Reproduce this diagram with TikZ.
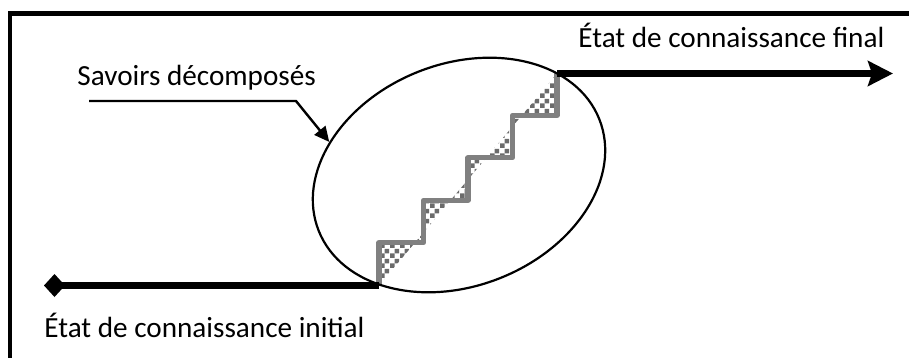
\documentclass[tikz,border=0pt]{standalone}
\usepackage{fontspec}
\setmainfont{Carlito}
\usetikzlibrary{arrows.meta,shapes.geometric,patterns.meta}

% grey checks for the gaps between the staircase and its diagonal
\tikzdeclarepattern{
  name=smallchecks,
  type=uncolored,
  bottom left={(0pt,0pt)},
  top right={(5pt,5pt)},
  tile size={(5pt,5pt)},
  code={
    \fill (0pt,0pt) rectangle (2.5pt,2.5pt);
    \fill (2.5pt,2.5pt) rectangle (5pt,5pt);
  }
}

\begin{document}
\begin{tikzpicture}[x=0.5pt,y=-0.5pt,
  lbl/.style={font=\fontsize{14.6}{17}\selectfont, inner sep=0pt, anchor=base west},
  frameline/.style={line width=2.3pt, line join=miter},
  stateline/.style={line width=3.5pt},
  stairline/.style={draw=black!50, line width=2.6pt, line join=round},
  stairfill/.style={pattern=smallchecks, pattern color=black!58},
  pointer/.style={line width=1.2pt, -{Triangle[length=7.5pt,width=7pt]}},
  knowledge/.style={draw, ellipse, line width=1.1pt, inner sep=0pt,
    minimum width=151pt, minimum height=111pt}]

\useasboundingbox (0,0) rectangle (909,358);

% frame: top and left edges only
\draw[frameline] (9.8,370) -- (9.8,13.5) -- (920,13.5);

% staircase corners
\coordinate (s0) at (379,285.5);
\coordinate (s1) at (379,242.6);
\coordinate (s2) at (423.5,242.6);
\coordinate (s3) at (423.5,200.2);
\coordinate (s4) at (468,200.2);
\coordinate (s5) at (468,157.8);
\coordinate (s6) at (512.5,157.8);
\coordinate (s7) at (512.5,115.4);
\coordinate (s8) at (557,115.4);
\coordinate (s9) at (557,73.5);

% checked area between the steps and the straight diagonal
\fill[stairfill] (s0) -- (s1) -- (s2) -- (s3) -- (s4) -- (s5) -- (s6)
  -- (s7) -- (s8) -- (s9) -- cycle;

% the steps
\draw[stairline] (s0) -- (s1) -- (s2) -- (s3) -- (s4) -- (s5) -- (s6)
  -- (s7) -- (s8) -- (s9);

% ellipse of decomposed knowledge
\node[knowledge, rotate=21.7] (E) at (459,175) {};

% initial and final states
\coordinate (start) at (44,285.5);
\coordinate (tip) at (893,73.5);
\draw[stateline, {Diamond[length=10.5pt,width=11.5pt]}-] (start) -- (s0);
\draw[stateline, -{Stealth[length=12.5pt,width=12.5pt,inset=2pt]}] (s9) -- (tip);

% labels
\node[lbl] (final) at (578,48) {État de connaissance final};
\node[lbl] (initial) at (44,337) {État de connaissance initial};
\node[lbl] (savoirs) at (77,86) {Savoirs décomposés};

% pointer from the label to the ellipse
\coordinate (p0) at (89,101);
\coordinate (p1) at (296,101);
\draw[pointer] (p0) -- (p1) -- (E.144.5);
\end{tikzpicture}
\end{document}
